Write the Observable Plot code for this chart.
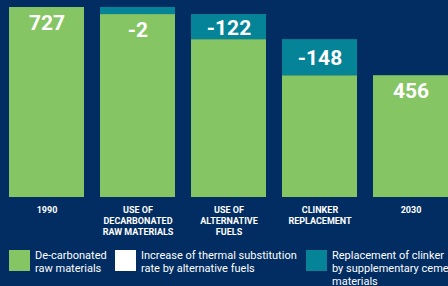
<!DOCTYPE html>
<html>
<head>
<meta charset="utf-8">
<script src="https://cdn.jsdelivr.net/npm/d3@7"></script>
<script src="https://cdn.jsdelivr.net/npm/@observablehq/plot@0.6"></script>
<style>
  html, body { margin: 0; padding: 0; background: #012d62; width: 448px; height: 286px; overflow: hidden; }
  #chart svg { display: block; background: #012d62; }
  #legend { position: relative; height: 42px; width: 448px; font-family: Roboto, "Open Sans", sans-serif; font-size: 11px; line-height: 13px; color: #fff; }
  .item { position: absolute; top: 6px; display: flex; align-items: flex-start; }
  .sw { width: 21px; height: 21px; flex: none; margin-right: 5px; }
  .lab { margin-top: -1px; white-space: nowrap; }
</style>
</head>
<body>
<div id="chart"></div>
<div id="legend"></div>
<script>
const categories = ["1990", "USE OF\nDECARBONATED\nRAW MATERIALS", "USE OF\nALTERNATIVE\nFUELS", "CLINKER\nREPLACEMENT", "2030"];
const valueLabels = ["727", "-2", "-122", "-148", "456"];
const greenTop = [727, 700, 604, 466, 466];
const stepTop = [727, 727, 700, 604, 466];
const legendNames = ["De-carbonated\nraw materials", "Increase of thermal substitution\nrate by alternative fuels", "Replacement of clinker\nby supplementary cementitious\nmaterials"];
const legendColors = ["#86c564", "#ffffff", "#068497"];

const GREEN = "#86c564", TEAL = "#068497";

const rows = categories.map((c, i) => ({
  cat: c, label: valueLabels[i], green: greenTop[i], top: stepTop[i],
  inStep: stepTop[i] - greenTop[i] > 60
}));

const chart = Plot.plot({
  width: 448,
  height: 244,
  marginTop: 7,
  marginBottom: 47,
  marginLeft: 9,
  marginRight: 0,
  style: { background: "#012d62", color: "#fff", fontFamily: "Roboto, 'Open Sans', sans-serif" },
  x: { domain: categories, paddingInner: 0.176, paddingOuter: 0, axis: null },
  y: { domain: [0, 727], axis: null },
  marks: [
    Plot.rectY(rows, { x: "cat", y1: 0, y2: "green", fill: GREEN, inset: 0 }),
    Plot.rectY(rows.filter(d => d.top > d.green), { x: "cat", y1: "green", y2: "top", fill: TEAL, inset: 0 }),
    Plot.text(rows.filter(d => !d.inStep), { x: "cat", y: "green", text: "label", dy: 16, fill: "#fff", fontSize: 21, fontWeight: "bold" }),
    Plot.text(rows.filter(d => d.inStep), { x: "cat", y: d => (d.green + d.top) / 2, text: "label", dy: 1, fill: "#fff", fontSize: 21, fontWeight: "bold" }),
    Plot.axisX({ tickSize: 0, tickPadding: 8, fontSize: 9, fontWeight: "bold", lineHeight: 1.2, color: "#fff", label: null, lineAnchor: "top" })
  ]
});
document.getElementById("chart").appendChild(chart);

const lefts = [9, 115, 306];
const lg = document.getElementById("legend");
legendNames.forEach((n, i) => {
  const it = document.createElement("div");
  it.className = "item";
  it.style.left = lefts[i] + "px";
  const sw = document.createElement("div");
  sw.className = "sw";
  sw.style.background = legendColors[i];
  const lab = document.createElement("div");
  lab.className = "lab";
  lab.innerHTML = n.split("\n").join("<br>");
  it.appendChild(sw); it.appendChild(lab);
  lg.appendChild(it);
});
</script>
</body>
</html>
